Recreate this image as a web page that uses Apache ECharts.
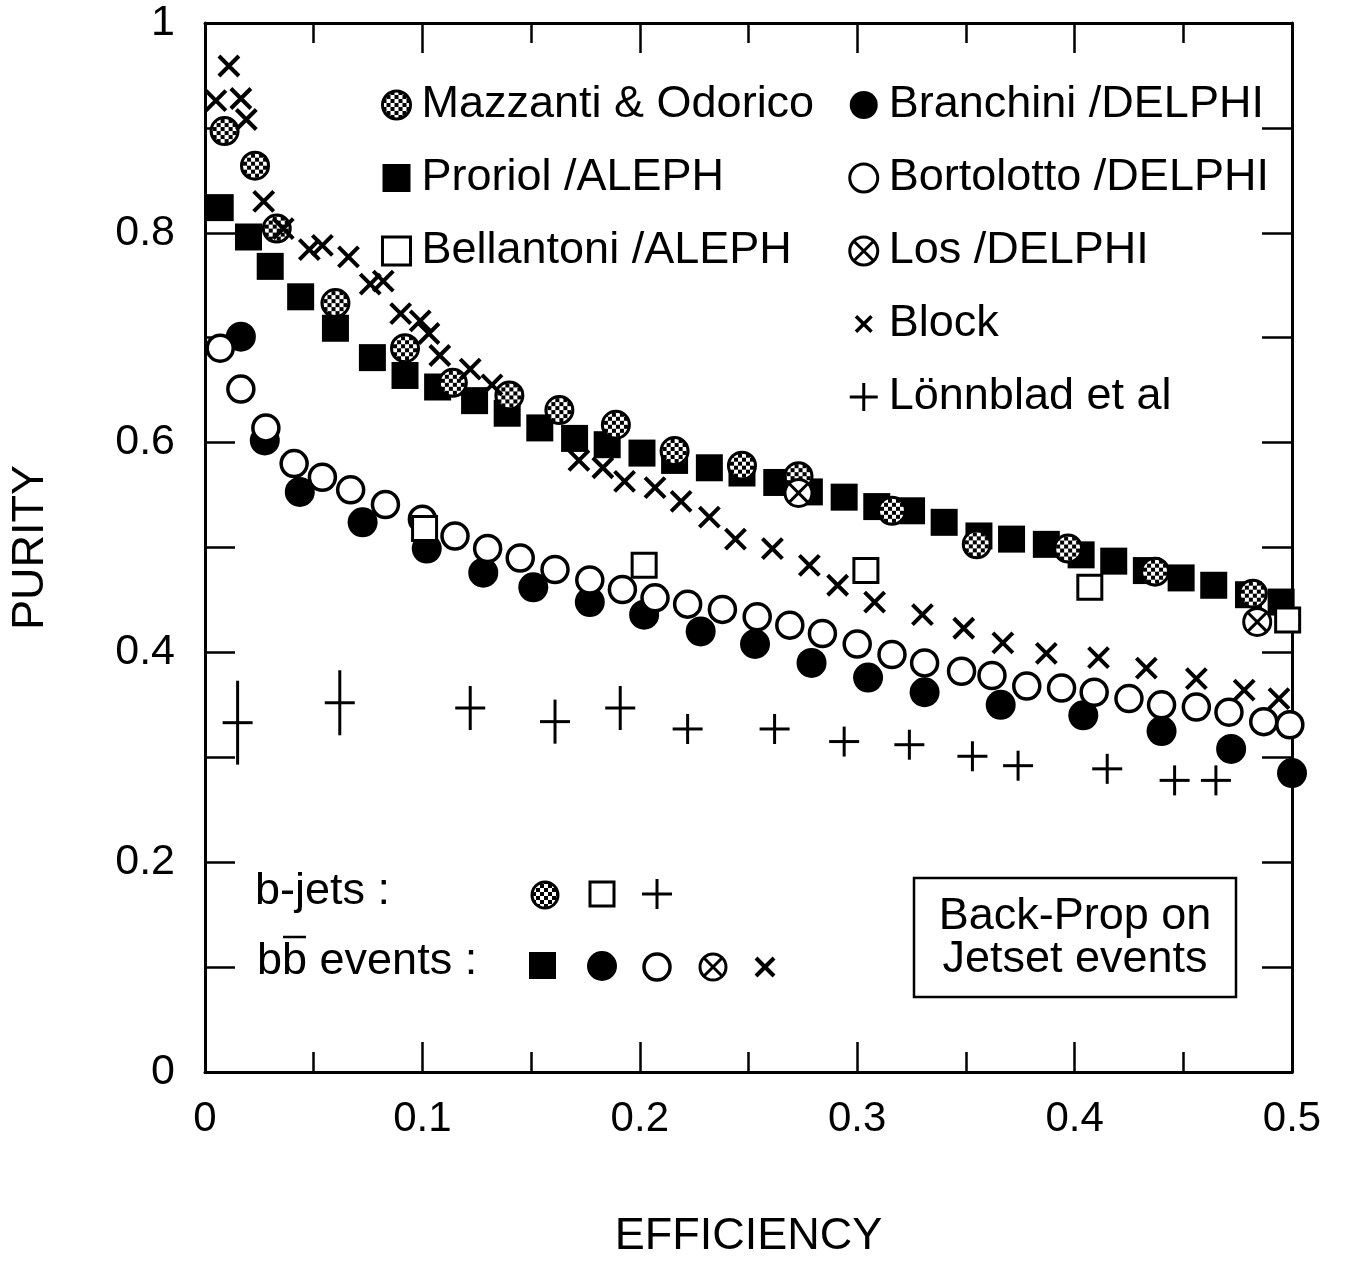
<!DOCTYPE html>
<html lang="en">
<head>
<meta charset="utf-8"/>
<title>Purity vs efficiency</title>
<script type="text/javascript" src="https://cdn.jsdelivr.net/npm/echarts@6/dist/echarts.min.js"></script>
<style>
  html, body { margin: 0; background: #fff; }
  #container { width: 1354px; height: 1264px; }
</style>
</head>
<body>
<div id="container"></div>
<script type="text/javascript">
// [efficiency, purity]
var mazzanti = [[0.009,0.897],[0.023,0.864],[0.033,0.804],[0.060,0.733],[0.092,0.690],[0.114,0.657],
  [0.140,0.645],[0.163,0.631],[0.189,0.617],[0.216,0.592],[0.247,0.578],[0.273,0.568],[0.316,0.535],
  [0.355,0.503],[0.397,0.499],[0.437,0.477],[0.482,0.456]];
var proriol = [[0.007,0.824],[0.020,0.796],[0.030,0.768],[0.044,0.739],[0.060,0.709],[0.077,0.681],
  [0.092,0.664],[0.107,0.653],[0.124,0.640],[0.139,0.628],[0.154,0.614],[0.170,0.604],[0.185,0.598],
  [0.201,0.590],[0.216,0.583],[0.232,0.576],[0.247,0.571],[0.263,0.562],[0.278,0.553],[0.294,0.548],
  [0.309,0.539],[0.325,0.535],[0.340,0.524],[0.356,0.511],[0.371,0.508],[0.387,0.503],[0.403,0.493],
  [0.418,0.487],[0.433,0.478],[0.449,0.471],[0.464,0.464],[0.480,0.455],[0.495,0.448]];
var bellantoni = [[0.101,0.518],[0.202,0.483],[0.304,0.478],[0.407,0.462],[0.498,0.431]];
var branchini = [[0.0165,0.701],[0.0275,0.602],[0.0436,0.553],[0.0725,0.524],[0.102,0.499],[0.128,0.476],
  [0.151,0.462],[0.177,0.448],[0.202,0.436],[0.228,0.420],[0.253,0.408],[0.279,0.390],[0.305,0.376],
  [0.331,0.362],[0.366,0.350],[0.404,0.340],[0.440,0.325],[0.472,0.308],[0.500,0.285]];
var bortolotto = [[0.007,0.690],[0.0165,0.651],[0.028,0.614],[0.041,0.580],[0.054,0.567],[0.067,0.555],
  [0.083,0.541],[0.100,0.527],[0.115,0.511],[0.130,0.499],[0.145,0.490],[0.161,0.479],[0.177,0.469],
  [0.192,0.460],[0.207,0.452],[0.222,0.446],[0.238,0.441],[0.254,0.434],[0.269,0.426],[0.284,0.418],
  [0.300,0.408],[0.316,0.398],[0.331,0.390],[0.348,0.382],[0.362,0.378],[0.378,0.368],[0.394,0.366],
  [0.409,0.362],[0.425,0.356],[0.440,0.350],[0.456,0.348],[0.471,0.343],[0.487,0.334],[0.499,0.331]];
var los = [[0.273,0.552],[0.484,0.429]];
var block = [[0.005,0.926],[0.011,0.959],[0.0165,0.928],[0.019,0.908],[0.027,0.830],[0.036,0.804],
  [0.048,0.784],[0.054,0.788],[0.066,0.777],[0.076,0.751],[0.082,0.754],[0.090,0.723],[0.099,0.716],
  [0.103,0.704],[0.108,0.683],[0.122,0.670],[0.132,0.655],[0.172,0.583],[0.183,0.576],[0.193,0.563],
  [0.207,0.557],[0.219,0.544],[0.232,0.529],[0.244,0.508],[0.261,0.499],[0.278,0.483],[0.291,0.464],
  [0.308,0.448],[0.330,0.436],[0.349,0.423],[0.367,0.409],[0.387,0.399],[0.411,0.395],[0.433,0.385],
  [0.456,0.375],[0.478,0.364],[0.494,0.356]];
// [efficiency, purity, error]
var lonnblad = [[0.015,0.333,0.040],[0.062,0.352,0.031],[0.122,0.347,0.021],[0.161,0.334,0.021],
  [0.191,0.347,0.021],[0.222,0.327,0.013],[0.262,0.327,0.013],[0.294,0.315,0.013],[0.324,0.312,0.013],
  [0.353,0.301,0.013],[0.374,0.292,0.013],[0.415,0.289,0.013],[0.446,0.278,0.013],[0.465,0.278,0.013]];

var xTicks = [0, 0.1, 0.2, 0.3, 0.4, 0.5];
var yTicks = [0, 0.2, 0.4, 0.6, 0.8, 1];

var FONT = '"Liberation Sans", Arial, sans-serif';
var X_PATH = 'path://M0,0L10,10M10,0L0,10';
var X_ICON = 'path://M-4,-4M14,14M0,0L10,10M10,0L0,10';
var PLUS_PATH = 'path://M5,0L5,10M0,5L10,5';
var LOS_PATH = 'path://M0,10A10,10,0,1,1,20,10A10,10,0,1,1,0,10ZM3,3L17,17M17,3L3,17';
var CHECK_SIZE = 27;

// checkered fill for the Mazzanti & Odorico circles
function checker() {
    var c = document.createElement('canvas');
    c.width = 8; c.height = 8;
    var g = c.getContext('2d');
    g.fillStyle = '#fff'; g.fillRect(0, 0, 8, 8);
    g.fillStyle = '#000'; g.fillRect(0, 0, 4, 4); g.fillRect(4, 4, 4, 4);
    return c;
}
var checkCanvas = checker();
var checkFill = { image: checkCanvas, repeat: 'repeat' };
// scatter symbols are drawn at unit size and scaled, so shrink the pattern to match
var checkFillSym = { image: checkCanvas, repeat: 'repeat', scaleX: 2 / CHECK_SIZE, scaleY: 2 / CHECK_SIZE };

function near(v, list) {
    for (var i = 0; i < list.length; i++) if (Math.abs(list[i] - v) < 1e-6) return true;
    return false;
}

function xAxisOpt(pos) {
    return {
        type: 'value', min: 0, max: 0.5, interval: 0.1, position: pos,
        name: pos === 'bottom' ? 'EFFICIENCY' : '', nameLocation: 'middle', nameGap: 142,
        nameTextStyle: { fontSize: 45, fontFamily: FONT, color: '#000' },
        axisLine: { onZero: false, lineStyle: { color: '#000', width: 3 } },
        axisTick: { inside: true, length: 30, lineStyle: { color: '#000', width: 2.5 } },
        minorTick: { show: true, splitNumber: 2, length: 20, lineStyle: { color: '#000', width: 2.5 } },
        axisLabel: {
            show: pos === 'bottom', margin: 26, fontSize: 42, fontFamily: FONT, color: '#000',
            formatter: function (v) { return near(v, xTicks) ? String(+v.toFixed(1)) : ''; }
        },
        splitLine: { show: false }
    };
}
function yAxisOpt(pos) {
    return {
        type: 'value', min: 0, max: 1, interval: 0.1, position: pos,
        name: pos === 'left' ? 'PURITY' : '', nameLocation: 'middle', nameGap: 152, nameRotate: 90,
        nameTextStyle: { fontSize: 45, fontFamily: FONT, color: '#000' },
        axisLine: { onZero: false, lineStyle: { color: '#000', width: 3 } },
        axisTick: { inside: true, length: 30, lineStyle: { color: '#000', width: 2.5 } },
        axisLabel: {
            show: pos === 'left', margin: 30, fontSize: 43, fontFamily: FONT, color: '#000',
            formatter: function (v) { return near(v, yTicks) ? String(+v.toFixed(1)) : ''; }
        },
        splitLine: { show: false }
    };
}

function scatter(name, data, symbol, size, style) {
    style.opacity = 1;
    return { type: 'scatter', name: name, data: data, symbol: symbol, symbolSize: size,
        itemStyle: style, emphasis: { disabled: true }, silent: true };
}

var legendText = { fontSize: 45, fontFamily: FONT, color: '#000', lineHeight: 50, padding: [0, 0, 0, 6] };
var black = '#000';

var dom = document.getElementById('container');
var myChart = echarts.init(dom);
var option = {
    animation: false,
    backgroundColor: '#fff',
    grid: { left: 202, right: 62, top: 23, bottom: 169 },
    xAxis: [xAxisOpt('bottom'), xAxisOpt('top')],
    yAxis: [yAxisOpt('left'), yAxisOpt('right')],
    legend: [{
        orient: 'vertical', left: 381, top: 80, padding: 0, itemGap: 23,
        itemWidth: 28, itemHeight: 28, selectedMode: false, textStyle: legendText,
        data: [
            { name: 'Mazzanti & Odorico', icon: 'circle', itemStyle: { color: checkFill, borderColor: black, borderWidth: 3, opacity: 1 } },
            { name: 'Proriol /ALEPH', icon: 'rect', itemStyle: { color: black, borderWidth: 0, opacity: 1 } },
            { name: 'Bellantoni /ALEPH', icon: 'rect', itemStyle: { color: '#fff', borderColor: black, borderWidth: 3, opacity: 1 } }
        ]
    }, {
        orient: 'vertical', left: 848, top: 80, padding: 0, itemGap: 23,
        itemWidth: 28, itemHeight: 28, selectedMode: false, textStyle: legendText,
        data: [
            { name: 'Branchini /DELPHI', icon: 'circle', itemStyle: { color: black, borderWidth: 0, opacity: 1 } },
            { name: 'Bortolotto /DELPHI', icon: 'circle', itemStyle: { color: '#fff', borderColor: black, borderWidth: 3, opacity: 1 } },
            { name: 'Los /DELPHI', icon: LOS_PATH, itemStyle: { color: '#fff', borderColor: black, borderWidth: 3, opacity: 1 } },
            { name: 'Block', icon: X_ICON, itemStyle: { color: black, borderColor: black, borderWidth: 3.5, opacity: 1 } },
            { name: 'Lönnblad et al', icon: PLUS_PATH, itemStyle: { color: black, borderColor: black, borderWidth: 3, opacity: 1 } }
        ]
    }],
    series: [
        scatter('Proriol /ALEPH', proriol, 'rect', 27, { color: black }),
        scatter('Mazzanti & Odorico', mazzanti, 'circle', CHECK_SIZE, { color: checkFillSym, borderColor: black, borderWidth: 3 }),
        scatter('Branchini /DELPHI', branchini, 'circle', 30, { color: black }),
        scatter('Bortolotto /DELPHI', bortolotto, 'circle', 26, { color: '#fff', borderColor: black, borderWidth: 3.5 }),
        scatter('Bellantoni /ALEPH', bellantoni, 'rect', 24, { color: '#fff', borderColor: black, borderWidth: 3 }),
        scatter('Los /DELPHI', los, LOS_PATH, 27, { color: '#fff', borderColor: black, borderWidth: 3 }),
        scatter('Block', block, X_PATH, 20, { color: black, borderColor: black, borderWidth: 4 }),
        {
            type: 'custom', name: 'Lönnblad et al', data: lonnblad, silent: true,
            encode: { x: 0, y: 1 },
            itemStyle: { color: black },
            renderItem: function (params, api) {
                var x = api.value(0), y = api.value(1), e = api.value(2);
                var c = api.coord([x, y]);
                var hi = api.coord([x, y + e]);
                var lo = api.coord([x, y - e]);
                var st = { stroke: black, lineWidth: 3 };
                return { type: 'group', children: [
                    { type: 'line', shape: { x1: c[0] - 15, y1: c[1], x2: c[0] + 15, y2: c[1] }, style: st },
                    { type: 'line', shape: { x1: c[0], y1: Math.min(hi[1], c[1] - 15), x2: c[0], y2: Math.max(lo[1], c[1] + 15) }, style: st }
                ] };
            }
        }
    ],
    graphic: [
        // b-jets / bb events key
        { type: 'text', x: 255, y: 892, style: { text: 'b-jets :', font: '45px ' + FONT, fill: black, verticalAlign: 'middle' } },
        { type: 'text', x: 257, y: 962, style: { text: 'bb events :', font: '45px ' + FONT, fill: black, verticalAlign: 'middle' } },
        { type: 'line', shape: { x1: 283, y1: 937, x2: 306, y2: 937 }, style: { stroke: black, lineWidth: 2.5 } },
        { type: 'circle', shape: { cx: 545, cy: 895, r: 13 }, style: { fill: checkFill, stroke: black, lineWidth: 3 } },
        { type: 'rect', shape: { x: 590, y: 882, width: 24, height: 24 }, style: { fill: '#fff', stroke: black, lineWidth: 3 } },
        { type: 'line', shape: { x1: 642, y1: 894, x2: 672, y2: 894 }, style: { stroke: black, lineWidth: 3 } },
        { type: 'line', shape: { x1: 657, y1: 879, x2: 657, y2: 909 }, style: { stroke: black, lineWidth: 3 } },
        { type: 'rect', shape: { x: 529, y: 952, width: 27, height: 27 }, style: { fill: black } },
        { type: 'circle', shape: { cx: 602, cy: 966, r: 15 }, style: { fill: black } },
        { type: 'circle', shape: { cx: 657, cy: 967, r: 13 }, style: { fill: '#fff', stroke: black, lineWidth: 3.5 } },
        { type: 'circle', shape: { cx: 713, cy: 967, r: 13 }, style: { fill: '#fff', stroke: black, lineWidth: 3 } },
        { type: 'line', shape: { x1: 704, y1: 958, x2: 722, y2: 976 }, style: { stroke: black, lineWidth: 3 } },
        { type: 'line', shape: { x1: 722, y1: 958, x2: 704, y2: 976 }, style: { stroke: black, lineWidth: 3 } },
        { type: 'line', shape: { x1: 756, y1: 958, x2: 774, y2: 976 }, style: { stroke: black, lineWidth: 4 } },
        { type: 'line', shape: { x1: 774, y1: 958, x2: 756, y2: 976 }, style: { stroke: black, lineWidth: 4 } },
        // boxed note
        { type: 'rect', shape: { x: 914, y: 878, width: 322, height: 119 }, style: { fill: '#fff', stroke: black, lineWidth: 2.5 } },
        { type: 'text', x: 1075, y: 917, style: { text: 'Back-Prop on', font: '45px ' + FONT, fill: black, align: 'center', verticalAlign: 'middle' } },
        { type: 'text', x: 1075, y: 960, style: { text: 'Jetset events', font: '45px ' + FONT, fill: black, align: 'center', verticalAlign: 'middle' } }
    ]
};
myChart.setOption(option, true);
</script>
</body>
</html>
